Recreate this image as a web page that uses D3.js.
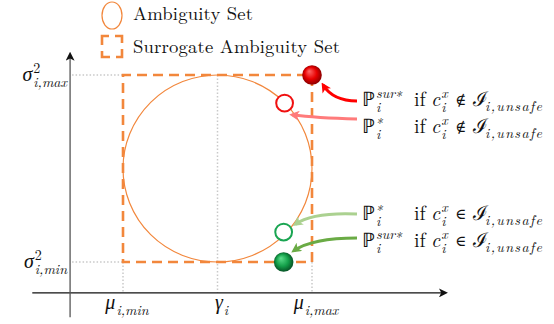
<!DOCTYPE html>
<html>
<head>
<meta charset="utf-8">
<script src="https://cdn.jsdelivr.net/npm/d3@7"></script>
</head>
<body style="margin:0; background:#fff">
<script>
// abstract axis values (mean on x, variance on y)
var muVals = [1, 2, 3];                       // mu_min, gamma, mu_max
var muNames = [["μ", "i,min"], ["γ", "i"], ["μ", "i,max"]];
var sigma2Vals = [1, 3];                      // sigma2_min, sigma2_max
var sigma2Names = [["σ", "i,min"], ["σ", "i,max"]];

// ambiguity set: ellipse centre and radii
var setCenter = [2, 2];
var setRadius = [1, 1];

// optimal distributions
var pointMu     = [3.00, 2.71, 2.70, 2.70];
var pointSigma2 = [3.00, 2.70, 1.32, 1.00];
var pointColor  = ["red", "red", "green", "green"];
var pointFilled = [true, false, false, true];

// annotation rows
var labelSup = ["sur∗", "∗", "∗", "sur∗"];
var labelRel = ["∉", "∉", "∈", "∈"];

window.onload = drawChart();

function drawChart(){

    var width = 554,
        height = 324;

    var svg = d3.select("body")
        .append("svg")
        .attr("width", width)
        .attr("height", height)
        .attr("font-family", "'Latin Modern Roman', 'Liberation Serif', serif")
        .attr("fill", "#111");

    // 94.5 px per unit horizontally, 93.5 vertically
    var x = d3.scaleLinear().domain([0, 4]).range([28.5, 406.5]);
    var y = d3.scaleLinear().domain([0, 4]).range([355.5, -18.5]);

    var orange = "#f2873c";
    var greekFont = "Liberation Serif";
    var colors = {
        red:   {ring: "#f01010", hi: "#ff6a6a", mid: "#e80000", lo: "#7a0000"},
        green: {ring: "#1aa552", hi: "#5fe08e", mid: "#14a04a", lo: "#04451f"}
    };

    var defs = svg.append("defs");

    // shaded balls
    Object.keys(colors).forEach(function(k){
        var grad = defs.append("radialGradient")
            .attr("id", "ball-" + k)
            .attr("cx", "50%").attr("cy", "50%").attr("r", "55%")
            .attr("fx", "35%").attr("fy", "30%");
        grad.append("stop").attr("offset", "0%").attr("stop-color", colors[k].hi);
        grad.append("stop").attr("offset", "55%").attr("stop-color", colors[k].mid);
        grad.append("stop").attr("offset", "100%").attr("stop-color", colors[k].lo);
    });

    //arrow heads
    function marker(id, color, size){
        defs.append("marker")
            .attr("id", id)
            .attr("viewBox", "0 -5 10 10")
            .attr("refX", 7)
            .attr("refY", 0)
            .attr("markerUnits", "userSpaceOnUse")
            .attr("markerWidth", size)
            .attr("markerHeight", size)
            .attr("orient", "auto")
            .append("path")
            .attr("d", "M0,-5L10,0L0,5L2.5,0Z")
            .attr("fill", color);
    }
    marker("head-axis", "#111", 9);

    // guide lines
    var guide = svg.append("g")
        .attr("stroke", "#c9c9c9")
        .attr("stroke-width", 1.5)
        .attr("stroke-dasharray", "1.5,2");

    var xAxisAt = 0.67, yAxisAt = 0.44;

    sigma2Vals.forEach(function(v){
        guide.append("line")
            .attr("x1", x(yAxisAt) + 2).attr("x2", x(muVals[0]))
            .attr("y1", y(v)).attr("y2", y(v));
    });
    muVals.forEach(function(v, i){
        guide.append("line")
            .attr("x1", x(v)).attr("x2", x(v))
            .attr("y1", i == 1 ? y(sigma2Vals[1]) : y(sigma2Vals[0]))
            .attr("y2", y(xAxisAt));
    });

    // axes
    svg.append("line")
        .attr("x1", x(0.04)).attr("x2", x(4.41))
        .attr("y1", y(xAxisAt)).attr("y2", y(xAxisAt))
        .attr("stroke", "#111").attr("stroke-width", 1.3)
        .attr("marker-end", "url(#head-axis)");
    svg.append("line")
        .attr("x1", x(yAxisAt)).attr("x2", x(yAxisAt))
        .attr("y1", y(0.41)).attr("y2", y(3.22))
        .attr("stroke", "#555").attr("stroke-width", 1.3)
        .attr("marker-end", "url(#head-axis)");

    // ambiguity set
    svg.append("ellipse")
        .attr("cx", x(setCenter[0])).attr("cy", y(setCenter[1]))
        .attr("rx", x(setCenter[0] + setRadius[0]) - x(setCenter[0]))
        .attr("ry", y(setCenter[1] - setRadius[1]) - y(setCenter[1]))
        .attr("fill", "none").attr("stroke", orange).attr("stroke-width", 1.2);

    // surrogate ambiguity set
    svg.append("rect")
        .attr("x", x(muVals[0])).attr("y", y(sigma2Vals[1]))
        .attr("width", x(muVals[2]) - x(muVals[0]))
        .attr("height", y(sigma2Vals[0]) - y(sigma2Vals[1]))
        .attr("fill", "none").attr("stroke", orange).attr("stroke-width", 2.6)
        .attr("stroke-dasharray", "10,6").attr("stroke-dashoffset", 2);

    //small math label: base letter with stacked sub/superscript
    function mathLabel(sel, px, py, base, sub, sup, size, anchor, upright, family){
        var g = sel.append("g");
        var b = g.append("text")
            .attr("x", 0).attr("y", 0)
            .attr("font-size", size)
            .attr("font-style", upright ? "normal" : "italic")
            .text(base);
        if (family) b.attr("font-family", family);
        var w = b.node().getComputedTextLength() + 1;
        var sw = 0;
        if (sup){
            var s = g.append("text")
                .attr("x", w).attr("y", -size * 0.42)
                .attr("font-size", size * 0.7)
                .attr("font-style", sup == "2" ? "normal" : "italic")
                .text(sup);
            sw = Math.max(sw, s.node().getComputedTextLength());
        }
        if (sub){
            var t = g.append("text")
                .attr("x", w).attr("y", size * 0.3)
                .attr("font-size", size * 0.7)
                .attr("font-style", "italic")
                .text(sub);
            sw = Math.max(sw, t.node().getComputedTextLength());
        }
        var total = w + sw;
        var shift = anchor == "end" ? total : anchor == "middle" ? total / 2 : 0;
        g.attr("transform", "translate(" + (px - shift) + "," + py + ")");
        return g;
    }

    // tick labels
    muVals.forEach(function(v, i){
        mathLabel(svg, x(v) + 4, 309, muNames[i][0], muNames[i][1], null, 20, "middle", false, greekFont);
    });
    sigma2Vals.forEach(function(v, i){
        mathLabel(svg, 67, y(v) + 6, sigma2Names[i][0], sigma2Names[i][1], "2", 20, "end", false, greekFont);
    });

    // points
    var pts = svg.append("g");
    pointMu.forEach(function(m, i){
        var c = colors[pointColor[i]];
        if (pointFilled[i]){
            pts.append("circle")
                .attr("cx", x(m)).attr("cy", y(pointSigma2[i])).attr("r", 9.8)
                .attr("fill", "url(#ball-" + pointColor[i] + ")");
        } else {
            pts.append("circle")
                .attr("cx", x(m)).attr("cy", y(pointSigma2[i])).attr("r", 8.4)
                .attr("fill", "#fff").attr("stroke", c.ring).attr("stroke-width", 2);
        }
    });

    // annotations with arrows
    var rowBase = [106, 133, 220, 247];
    var arrowColor = ["#ff0000", "#ff7b7b", "#abd190", "#6aab45"];
    var arrowStartY = [101, 119, 214, 238];
    var tipAngle = [42, 57, -34, -48];
    var ctrl = [[333, 101], [316, 118], [313, 212], [312, 238]];

    labelSup.forEach(function(sup, i){
        marker("head-" + i, arrowColor[i], 10);
        var cx = x(pointMu[i]), cy = y(pointSigma2[i]);
        var a = tipAngle[i] * Math.PI / 180;
        var rr = pointFilled[i] ? 15 : 14;
        var tx = cx + Math.cos(a) * rr, ty = cy + Math.sin(a) * rr;
        var p = d3.path();
        p.moveTo(357, arrowStartY[i]);
        p.quadraticCurveTo(ctrl[i][0], ctrl[i][1], tx, ty);
        svg.append("path")
            .attr("d", p.toString())
            .attr("fill", "none")
            .attr("stroke", arrowColor[i])
            .attr("stroke-width", 3)
            .attr("marker-end", "url(#head-" + i + ")");

        var yb = rowBase[i];
        mathLabel(svg, 362, yb, "ℙ", "i", sup, 20, "start", true);
        svg.append("text").attr("x", 414).attr("y", yb).attr("font-size", 20).text("if");
        mathLabel(svg, 431, yb, "c", "i", "x", 20, "start");
        svg.append("text").attr("x", 455).attr("y", yb - 1).attr("font-size", 15)
            .attr("font-family", "DejaVu Serif")
            .text(labelRel[i]);
        var g = mathLabel(svg, 473, yb, "ℐ", null, null, 20, "start", true, greekFont);
        g.append("text")
            .attr("x", 12).attr("y", 5)
            .attr("font-size", 14)
            .attr("textLength", 57)
            .attr("lengthAdjust", "spacing")
            .attr("font-style", "italic")
            .text("i,unsafe");
    });

    // legend
    var legend = svg.append("g");
    legend.append("ellipse")
        .attr("cx", 112).attr("cy", 15.5).attr("rx", 10).attr("ry", 13.5)
        .attr("fill", "none").attr("stroke", orange).attr("stroke-width", 1.2);
    legend.append("text")
        .attr("x", 133).attr("y", 20).attr("font-size", 18.7)
        .attr("textLength", 120).attr("lengthAdjust", "spacing")
        .text("Ambiguity Set");
    legend.append("rect")
        .attr("x", 102).attr("y", 36).attr("width", 20).attr("height", 21)
        .attr("fill", "none").attr("stroke", orange).attr("stroke-width", 2.6)
        .attr("stroke-dasharray", "14,6").attr("stroke-dashoffset", 7);
    legend.append("text")
        .attr("x", 133).attr("y", 53).attr("font-size", 18.7)
        .attr("textLength", 207).attr("lengthAdjust", "spacing")
        .text("Surrogate Ambiguity Set");
}
</script>
</body>
</html>
